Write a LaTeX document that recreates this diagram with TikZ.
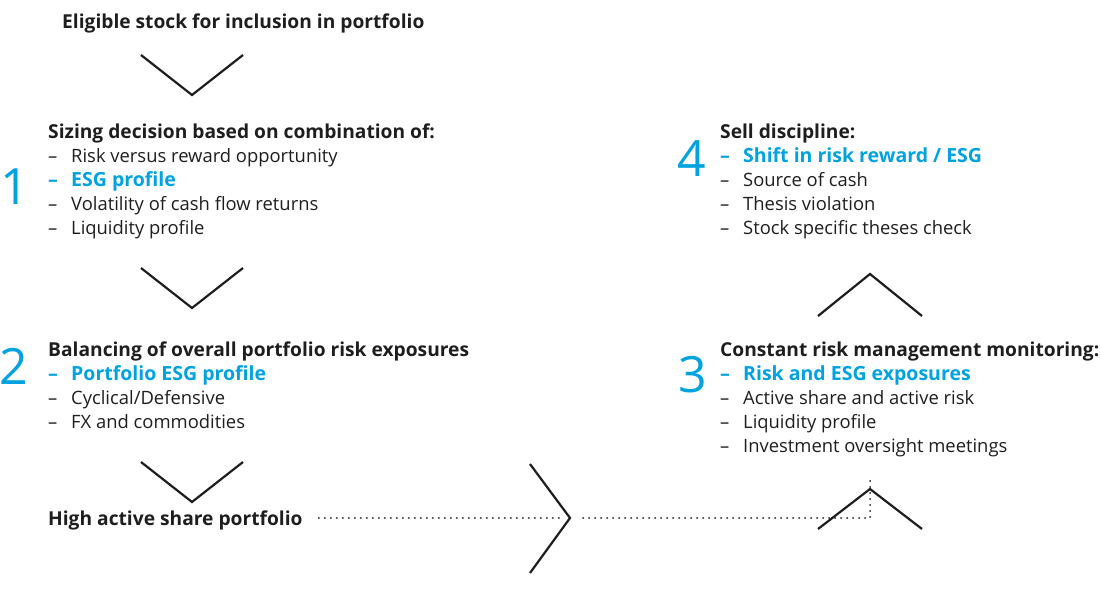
\documentclass[tikz,border=0pt]{standalone}
\usepackage{fontspec}
\setmainfont{Open Sans}
\definecolor{esgblue}{HTML}{00A3E0}
\definecolor{txtgray}{HTML}{1E1E1E}
\newcommand{\fs}[1]{\fontsize{#1}{24}\selectfont}
\newcommand{\hd}[1]{{\fs{19.2}\bfseries #1}}
\newcommand{\itm}[1]{{\fs{18.4}\makebox[23pt][l]{--}#1}}
\newcommand{\esgitm}[1]{{\fs{19.5}\color{esgblue}\bfseries\makebox[23pt][l]{--}#1}}
\tikzset{
  chev/.style={line width=2.2pt,txtgray,line join=miter},
  dotline/.style={line width=2pt,dash pattern=on 0pt off 6pt,line cap=round,txtgray},
  blk/.style={anchor=base west,inner sep=0pt,align=left,text=txtgray,font=\fs{18.4}},
  num/.style={anchor=base west,inner sep=0pt,text=esgblue,
    font=\fontsize{50}{50}\selectfont}
}
\begin{document}
\begin{tikzpicture}[x=1pt,y=-1pt]
\useasboundingbox (0,0) rectangle (1101,596);
% text blocks (anchored at the baseline of their last line)
\node[blk] (elig) at (62,29) {\hd{Eligible stock for inclusion in portfolio}};
\node[blk] (size) at (48,235) {\hd{Sizing decision based on combination of:}\\
  \itm{Risk versus reward opportunity}\\
  \esgitm{ESG profile}\\
  \itm{Volatility of cash flow returns}\\
  \itm{Liquidity profile}};
\node[blk] (bal) at (48,428) {\hd{Balancing of overall portfolio risk exposures}\\
  \esgitm{Portfolio ESG profile}\\
  \itm{Cyclical/Defensive}\\
  \itm{FX and commodities}};
\node[blk] (high) at (48,525) {\hd{High active share portfolio}};
\node[blk] (sell) at (720,235) {\hd{Sell discipline:}\\
  \esgitm{Shift in risk reward / ESG}\\
  \itm{Source of cash}\\
  \itm{Thesis violation}\\
  \itm{Stock specific theses check}};
\node[blk] (mon) at (720,452) {\hd{Constant risk management monitoring:}\\
  \esgitm{Risk and ESG exposures}\\
  \itm{Active share and active risk}\\
  \itm{Liquidity profile}\\
  \itm{Investment oversight meetings}};
% step numbers
\node[num] (n1) at (0,205) {1};
\node[num] (n2) at (-1,384) {2};
\node[num] (n3) at (678,392) {3};
\node[num] (n4) at (677,177) {4};
% chevrons
\coordinate (A1) at (141,55);  \coordinate (T1) at (192,95);  \coordinate (B1) at (243,55);
\coordinate (A2) at (141,268); \coordinate (T2) at (192,308); \coordinate (B2) at (243,268);
\coordinate (A3) at (141,462); \coordinate (T3) at (192,502); \coordinate (B3) at (243,462);
\coordinate (A4) at (530,464); \coordinate (T4) at (570,518); \coordinate (B4) at (530,573);
\coordinate (A5) at (818,529); \coordinate (T5) at (870,489); \coordinate (B5) at (922,529);
\coordinate (A6) at (818,316); \coordinate (T6) at (870,274); \coordinate (B6) at (922,316);
\draw[chev] (A1)--(T1)--(B1);
\draw[chev] (A2)--(T2)--(B2);
\draw[chev] (A3)--(T3)--(B3);
\draw[chev] (A4)--(T4)--(B4);
\draw[chev] (A5)--(T5)--(B5);
\draw[chev] (A6)--(T6)--(B6);
% dotted path
\coordinate (C) at (870,518);
\draw[dotline] ([xshift=16pt]high.east|-T4) -- ([xshift=-10pt]T4);
\draw[dotline] ([xshift=13pt]T4) -- (C) -- ([yshift=12pt]T5);
\end{tikzpicture}
\end{document}
